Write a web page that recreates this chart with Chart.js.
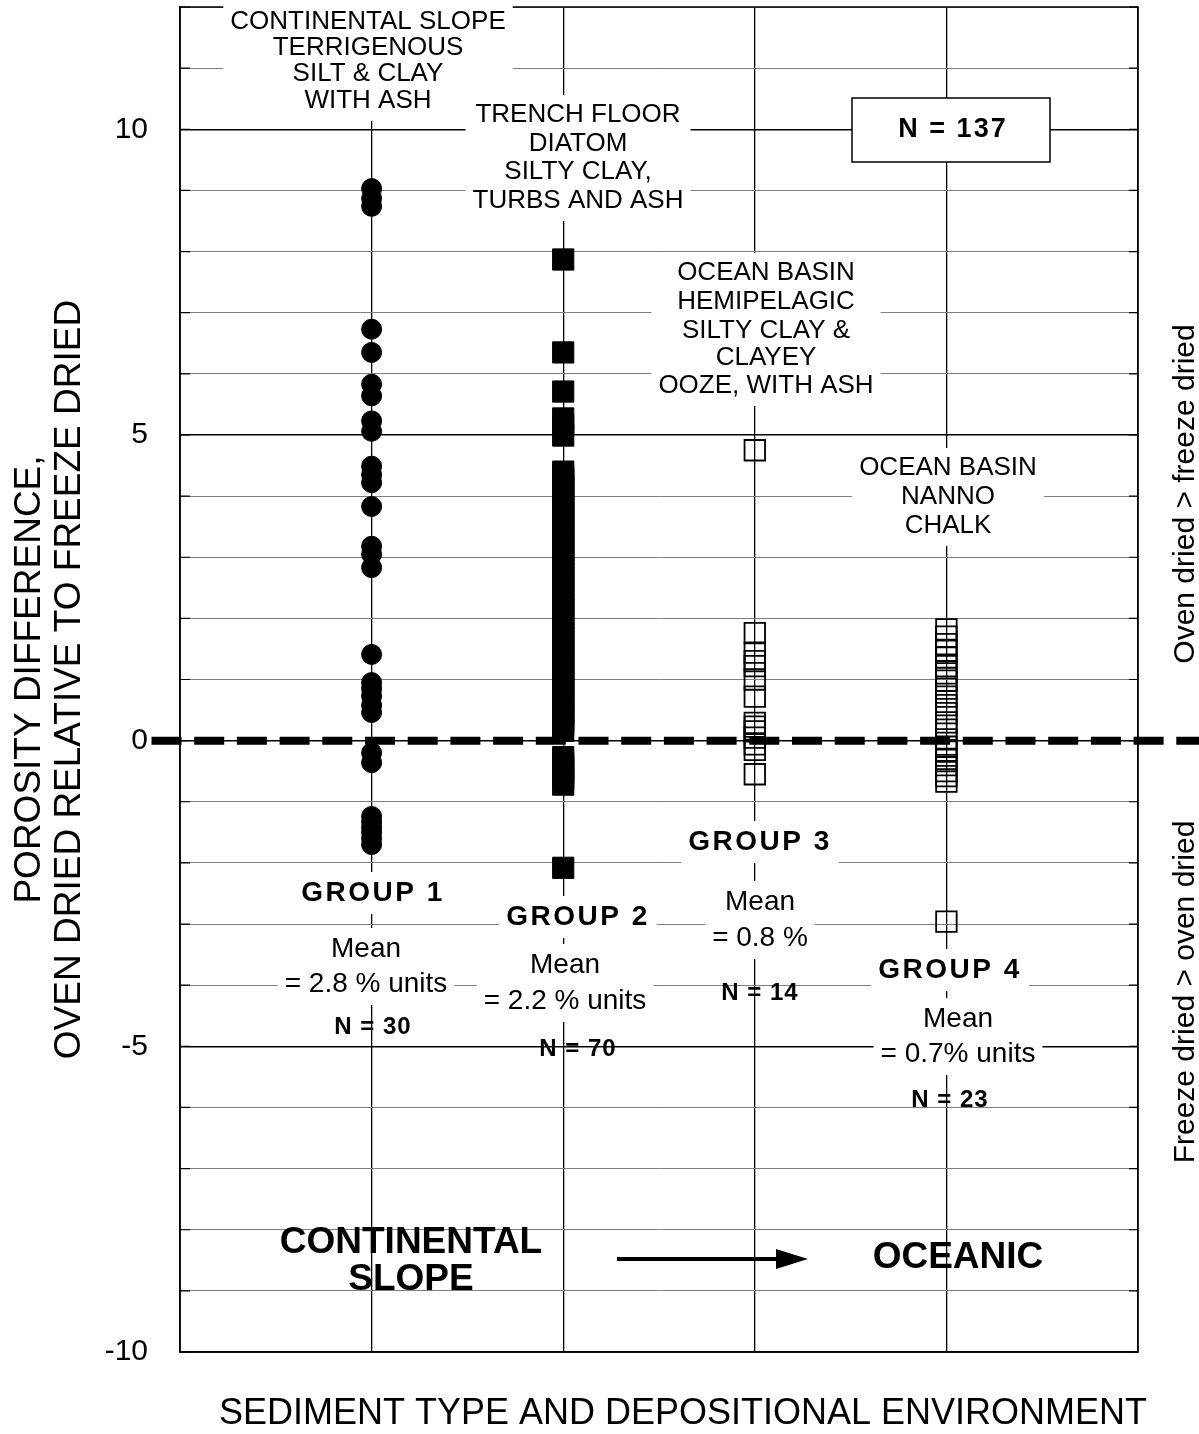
<!DOCTYPE html>
<html lang="en">

<head>
    <meta charset="UTF-8">
    <title>Porosity difference - oven dried vs freeze dried</title>
    <script src="https://cdn.jsdelivr.net/npm/chart.js"></script>
    <style>
        html, body {
            margin: 0;
            padding: 0;
            background: #fff;
        }

        .chart-box {
            position: relative;
            width: 1199px;
            height: 1434px;
        }
    </style>
</head>

<body>
    <div class="chart-box">
        <canvas id="porosityChart"></canvas>
    </div>

    <script>
        // x position of each sediment group on the category axis
        const categories = ["Continental slope", "Trench floor", "Ocean basin hemipelagic", "Ocean basin nanno chalk"];
        const groupX = [1, 2, 3, 4];

        // porosity difference (% units)
        const group1 = [9.03, 8.87, 8.74, 6.73, 6.35, 5.83, 5.64, 5.23, 5.06, 4.49,
            4.35, 4.22, 3.83, 3.18, 3.05, 2.83, 1.41, 0.95, 0.85, 0.73,
            0.58, 0.46, -0.2, -0.36, -1.24, -1.33, -1.42, -1.5, -1.6, -1.7];
        const group2 = [7.87, 6.35, 5.71, 5.27, 5.15, 4.99,
            4.40, 4.33, 4.27, 4.18, 4.10, 4.02, 3.95, 3.88, 3.80, 3.72,
            3.66, 3.58, 3.50, 3.42, 3.35, 3.27, 3.20, 3.12, 3.05, 2.97,
            2.90, 2.82, 2.75, 2.67, 2.60, 2.52, 2.44, 2.37, 2.30, 2.22,
            2.15, 2.07, 2.00, 1.92, 1.85, 1.77, 1.70, 1.62, 1.55, 1.47,
            1.40, 1.32, 1.25, 1.17, 1.10, 1.02, 0.95, 0.87, 0.80, 0.72,
            0.65, 0.57, 0.50, 0.42, 0.35, 0.26, 0.16,
            -0.27, -0.36, -0.45, -0.54, -0.63, -0.72, -2.08];
        const group3 = [4.75, 1.76, 1.44, 1.30, 1.22, 1.0, 0.72, 0.29, 0.23, 0.15, 0.05, -0.06, -0.15, -0.55];
        const group4 = [1.82, 1.70, 1.58, 1.47, 1.36, 1.22, 1.10, 0.98, 0.85, 0.72, 0.58,
            0.45, 0.30, 0.18, 0.02, -0.10, -0.18, -0.30, -0.40, -0.50, -0.58, -0.67, -2.96];

        const yTicks = [-10, -5, 0, 5, 10];
        const yTitle = ["POROSITY DIFFERENCE,", "OVEN DRIED RELATIVE TO FREEZE DRIED"];
        const xTitle = "SEDIMENT TYPE AND DEPOSITIONAL ENVIRONMENT";

        const FONT = '"Liberation Sans", Arial, sans-serif';

        function toPoints(values, x) {
            return values.map(v => ({ x: x, y: v }));
        }

        function textBlock(ctx, lines, x, ys, size, opts = {}) {
            ctx.font = (opts.bold ? "bold " : "") + size + "px " + FONT;
            ctx.letterSpacing = opts.spacing || "0px";
            const w = Math.max(...lines.map(t => ctx.measureText(t).width));
            if (opts.bg !== false) {
                const pad = 7;
                ctx.fillStyle = "#fff";
                ctx.fillRect(x - w / 2 - pad, ys[0] - size / 2 - pad,
                    w + 2 * pad, ys[ys.length - 1] - ys[0] + size + 2 * pad);
            }
            ctx.fillStyle = "#000";
            ctx.textAlign = "center";
            ctx.textBaseline = "middle";
            lines.forEach((t, i) => ctx.fillText(t, x, ys[i]));
            ctx.letterSpacing = "0px";
        }

        const annotations = {
            id: "annotations",
            beforeDatasetsDraw(chart) {
                const { ctx, chartArea: a, scales: { y } } = chart;
                ctx.save();
                ctx.strokeStyle = "#000";
                ctx.lineWidth = 1.5;
                ctx.strokeRect(a.left, a.top, a.right - a.left, a.bottom - a.top);
                // short inner ticks at both sides
                ctx.lineWidth = 1.2;
                for (let v = -10; v <= 12; v++) {
                    const py = y.getPixelForValue(v);
                    ctx.beginPath();
                    ctx.moveTo(a.left, py);
                    ctx.lineTo(a.left + 10, py);
                    ctx.moveTo(a.right - 9, py);
                    ctx.lineTo(a.right, py);
                    ctx.stroke();
                }
                ctx.restore();
            },
            afterDatasetsDraw(chart) {
                const { ctx, scales: { y } } = chart;
                const py = y.getPixelForValue(0);
                ctx.save();
                ctx.strokeStyle = "#000";
                ctx.lineWidth = 8;
                ctx.setLineDash([30, 12.7]);
                ctx.beginPath();
                ctx.moveTo(151.5, py);
                ctx.lineTo(1199, py);
                ctx.stroke();
                ctx.restore();
            },
            afterDraw(chart) {
                const { ctx } = chart;
                ctx.save();

                textBlock(ctx, ["CONTINENTAL SLOPE", "TERRIGENOUS", "SILT & CLAY", "WITH ASH"], 368, [22, 48, 74, 101], 26);
                textBlock(ctx, ["TRENCH FLOOR", "DIATOM", "SILTY CLAY,", "TURBS AND ASH"], 578, [115, 144, 172, 201], 26);
                textBlock(ctx, ["OCEAN BASIN", "HEMIPELAGIC", "SILTY CLAY &", "CLAYEY", "OOZE, WITH ASH"], 766, [273, 302, 331, 358, 386], 26);
                textBlock(ctx, ["OCEAN BASIN", "NANNO", "CHALK"], 948, [468, 497, 526], 26);

                // N = 137 box
                ctx.fillStyle = "#fff";
                ctx.fillRect(852, 98, 198, 64);
                ctx.strokeStyle = "#000";
                ctx.lineWidth = 1.5;
                ctx.strokeRect(852, 98, 198, 64);
                textBlock(ctx, ["N = 137"], 953, [130], 27, { bold: true, bg: false, spacing: "2px" });

                // group summaries
                const groups = [
                    { x: 373, gy: 893, name: "GROUP 1", mx: 366, my: [949, 984], mean: "= 2.8 % units", ny: 1027, n: "N = 30" },
                    { x: 578, gy: 917, name: "GROUP 2", mx: 565, my: [965, 1001], mean: "= 2.2 % units", ny: 1049, n: "N = 70" },
                    { x: 760, gy: 842, name: "GROUP 3", mx: 760, my: [902, 938], mean: "= 0.8 %", ny: 993, n: "N = 14" },
                    { x: 950, gy: 970, name: "GROUP 4", mx: 958, my: [1019, 1054], mean: "= 0.7% units", ny: 1100, n: "N = 23" }
                ];
                groups.forEach(g => {
                    textBlock(ctx, [g.name], g.x, [g.gy], 28, { bold: true, spacing: "2.5px" });
                    textBlock(ctx, ["Mean", g.mean], g.mx, g.my, 28);
                    textBlock(ctx, [g.n], g.x, [g.ny], 24, { bold: true, bg: false, spacing: "1px" });
                });

                // trend across the margin
                textBlock(ctx, ["CONTINENTAL", "SLOPE"], 411, [1243, 1280], 37, { bold: true, bg: false });
                textBlock(ctx, ["OCEANIC"], 958, [1258], 37, { bold: true, bg: false });
                ctx.fillStyle = "#000";
                ctx.fillRect(617, 1257, 165, 4);
                ctx.beginPath();
                ctx.moveTo(808, 1259);
                ctx.lineTo(776, 1249);
                ctx.lineTo(776, 1269);
                ctx.closePath();
                ctx.fill();

                // x axis title
                textBlock(ctx, [xTitle], 683, [1414], 36, { bg: false });

                // right side notes
                [["Oven dried > freeze dried", 494], ["Freeze dried > oven dried", 992]].forEach(([t, cy]) => {
                    ctx.save();
                    ctx.translate(1186, cy);
                    ctx.rotate(-Math.PI / 2);
                    textBlock(ctx, [t], 0, [0], 30, { bg: false });
                    ctx.restore();
                });

                ctx.restore();
            }
        };

        new Chart(document.getElementById("porosityChart"), {
            type: "scatter",
            data: {
                datasets: [
                    {
                        label: categories[0],
                        data: toPoints(group1, groupX[0]),
                        pointStyle: "circle",
                        pointRadius: 10,
                        pointBackgroundColor: "#000",
                        pointBorderColor: "#000",
                        pointBorderWidth: 1
                    },
                    {
                        label: categories[1],
                        data: toPoints(group2, groupX[1]),
                        pointStyle: "rect",
                        pointRadius: 15,
                        pointBackgroundColor: "#000",
                        pointBorderColor: "#000",
                        pointBorderWidth: 1
                    },
                    {
                        label: categories[2],
                        data: toPoints(group3, groupX[2]),
                        pointStyle: "rect",
                        pointRadius: 14.5,
                        pointBackgroundColor: "rgba(0,0,0,0)",
                        pointBorderColor: "#000",
                        pointBorderWidth: 1.8
                    },
                    {
                        label: categories[3],
                        data: toPoints(group4, groupX[3]),
                        pointStyle: "rect",
                        pointRadius: 14.5,
                        pointBackgroundColor: "rgba(0,0,0,0)",
                        pointBorderColor: "#000",
                        pointBorderWidth: 1.8
                    }
                ]
            },
            options: {
                responsive: true,
                maintainAspectRatio: false,
                animation: false,
                events: [],
                layout: {
                    autoPadding: false,
                    padding: { top: 7, right: 61, left: 0, bottom: 0 }
                },
                plugins: {
                    legend: { display: false },
                    tooltip: { enabled: false }
                },
                scales: {
                    x: {
                        type: "linear",
                        min: 0,
                        max: 5,
                        ticks: { display: false, stepSize: 1 },
                        grid: { color: "#000", lineWidth: 1.3, drawTicks: false },
                        border: { color: "#000", width: 1.5 },
                        afterFit(scale) {
                            scale.height = 82;
                            scale.paddingLeft = 0;
                            scale.paddingRight = 0;
                        }
                    },
                    y: {
                        min: -10,
                        max: 12,
                        ticks: {
                            stepSize: 1,
                            autoSkip: false,
                            padding: 32,
                            color: "#000",
                            font: { family: FONT, size: 30 },
                            callback: v => yTicks.includes(v) ? String(v) : ""
                        },
                        grid: {
                            color: c => yTicks.includes(c.tick.value) ? "#000" : "#7f7f7f",
                            lineWidth: c => yTicks.includes(c.tick.value) ? 1.5 : 1,
                            drawTicks: false
                        },
                        border: { color: "#000", width: 1.5 },
                        title: {
                            display: true,
                            text: yTitle,
                            color: "#000",
                            font: { family: FONT, size: 37, lineHeight: 1.08 },
                            padding: { top: 10, bottom: 0 }
                        },
                        afterFit(scale) {
                            scale.width = 180;
                            scale.paddingTop = 0;
                            scale.paddingBottom = 0;
                        }
                    }
                }
            },
            plugins: [annotations]
        });
    </script>
</body>

</html>
